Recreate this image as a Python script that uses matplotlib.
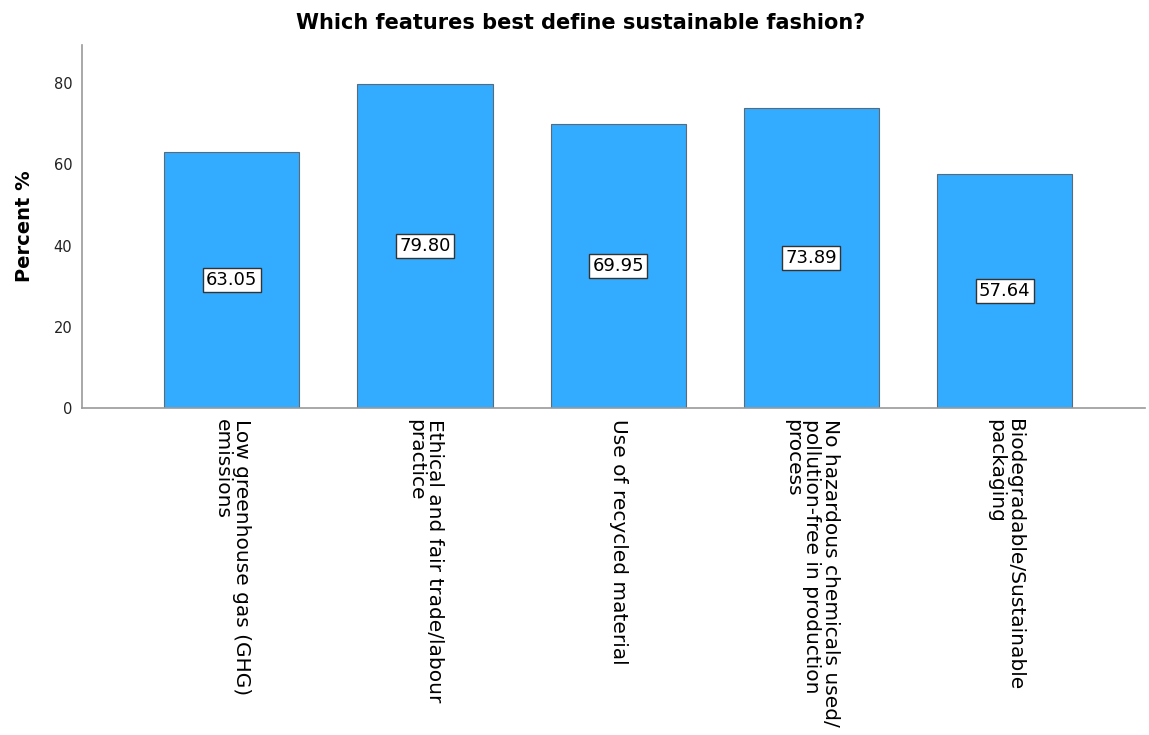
import matplotlib.pyplot as plt

# survey answers, percent of respondents
features = [
    "Low greenhouse gas (GHG)\nemissions",
    "Ethical and fair trade/labour\npractice",
    "Use of recycled material",
    "No hazardous chemicals used/\npollution-free in production\nprocess",
    "Biodegradable/Sustainable\npackaging",
]
percent = [63.05, 79.80, 69.95, 73.89, 57.64]
yticks = [0, 20, 40, 60, 80]

plt.rcParams['font.family'] = ['DejaVu Sans']

fig = plt.figure(figsize=(11.49, 7.35), dpi=100)
ax = fig.add_axes([0.0714, 0.4449, 0.9251, 0.4939])

x = range(len(features))
bars = ax.bar(x, percent, width=0.70, color='#33abff', edgecolor='#5a6a78', linewidth=0.8)

# value boxes in the middle of each bar
for xi, v in zip(x, percent):
    ax.text(xi, v / 2, f"{v:.2f}", ha='center', va='center', fontsize=13,
            bbox=dict(boxstyle='square,pad=0.18', facecolor='white', edgecolor='#333333', linewidth=1))

ax.set_xlim(-0.774, 4.726)
ax.set_ylim(0, 89.4)
ax.set_yticks(yticks)
ax.tick_params(axis='y', length=0, labelsize=10.5, pad=7, colors='#222222')
ax.tick_params(axis='x', length=0, pad=8)
ax.set_xticks(list(x))
ax.set_xticklabels(features, rotation=270, ha='center', va='top', multialignment='left',
                   fontsize=14.5, linespacing=1.0)

for s in ['top', 'right']:
    ax.spines[s].set_visible(False)
for s in ['left', 'bottom']:
    ax.spines[s].set_color('#9a9a9a')
    ax.spines[s].set_linewidth(1.2)

ax.set_ylabel('Percent %', fontsize=14, fontweight='bold', labelpad=14)
fig.suptitle('Which features best define sustainable fashion?', x=0.505, y=0.982,
             fontsize=15, fontweight='bold')

plt.savefig('out.png')
